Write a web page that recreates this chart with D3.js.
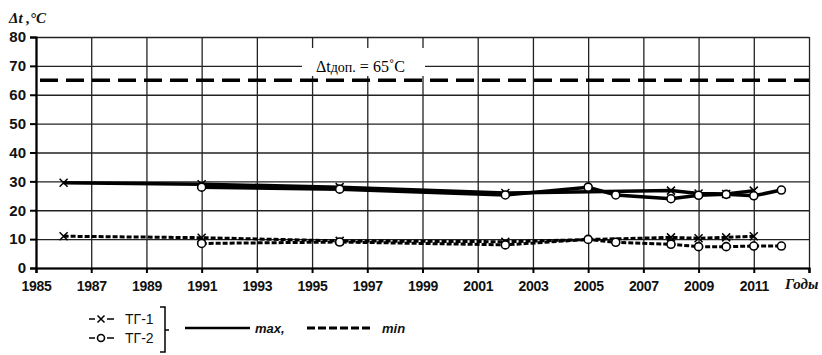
<!DOCTYPE html>
<html>
<head>
<meta charset="utf-8">
<script src="https://cdn.jsdelivr.net/npm/d3@7"></script>
<style>
  body { margin: 0; background: #fff; }
  svg { display: block; }
</style>
</head>
<body>
<svg id="chart"></svg>
<script>
// data
const tempTicks = [0, 10, 20, 30, 40, 50, 60, 70, 80];

const years1 = [1986, 1991, 1996, 2002, 2008, 2009, 2010, 2011];
const tg1Max = [29.5, 29, 28, 26, 26.8, 25.8, 25.6, 26.8];
const tg1Min = [11, 10.5, 9.4, 9.1, 10.6, 10.3, 10.6, 11];

const years2 = [1991, 1996, 2002, 2005, 2006, 2008, 2009, 2010, 2011, 2012];
const tg2Max = [28, 27.3, 25.3, 28, 25.3, 24, 25.2, 25.5, 25, 27];
const tg2Min = [8.5, 9, 8, 9.9, 8.9, 8.2, 7.4, 7.4, 7.6, 7.6];

const limitValue = 65;
const seriesNames = ["ТГ-1", "ТГ-2"];
const kindNames = ["max,", "min"];

const W = 822, H = 355;
const margins = {left: 36, right: 13, top: 37, bottom: 87};

const svg = d3.select("#chart").attr("width", W).attr("height", H);
svg.append("rect").attr("width", W).attr("height", H).attr("fill", "#fff");

const x = d3.scaleLinear().domain([1985, 2013]).range([margins.left, W - margins.right]);
const y = d3.scaleLinear().domain([0, 80]).range([H - margins.bottom, margins.top]);

// grid
svg.append("g")
   .attr("transform", "translate(0," + y(0) + ")")
   .call(d3.axisBottom(x).tickValues(d3.range(1985, 2014, 2)).tickSize(-(y(0) - y(80))).tickFormat(""))
   .call(g => g.select(".domain").remove())
   .call(g => g.selectAll("line").attr("stroke", "#222").attr("stroke-width", 1.3));
svg.append("g")
   .attr("transform", "translate(" + x(1985) + ",0)")
   .call(d3.axisLeft(y).tickValues(tempTicks).tickSize(-(x(2013) - x(1985))).tickFormat(""))
   .call(g => g.select(".domain").remove())
   .call(g => g.selectAll("line").attr("stroke", "#222").attr("stroke-width", 1.3));

// allowed limit
svg.append("line")
   .attr("x1", x(1985) + 4).attr("x2", x(2013))
   .attr("y1", y(limitValue)).attr("y2", y(limitValue))
   .attr("stroke", "#000").attr("stroke-width", 3.5)
   .attr("stroke-dasharray", "18,8");

svg.append("rect")
   .attr("x", 302).attr("y", 48).attr("width", 123).attr("height", 28)
   .attr("fill", "#fff");
const lim = svg.append("text")
   .attr("x", 316).attr("y", 72)
   .attr("font-family", "Liberation Serif, serif")
   .attr("font-size", 16).attr("fill", "#000");
lim.append("tspan").text("Δt");
lim.append("tspan").attr("font-size", 14).text("доп.");
lim.append("tspan").text(" = 65˚C");

// axes
const xAxis = svg.append("g")
   .attr("transform", "translate(0," + y(0) + ")")
   .call(d3.axisBottom(x).tickValues(d3.range(1985, 2014, 2)).tickSize(5).tickFormat(d => d < 2013 ? d : ""));
const yAxis = svg.append("g")
   .attr("transform", "translate(" + x(1985) + ",0)")
   .call(d3.axisLeft(y).tickValues(tempTicks).tickSize(6).tickPadding(4));
[xAxis, yAxis].forEach(a => {
  a.select(".domain").attr("stroke", "#000").attr("stroke-width", 2.2);
  a.selectAll(".tick line").attr("stroke", "#000").attr("stroke-width", 2);
  a.selectAll("text").attr("fill", "#111")
   .attr("font-family", "Liberation Sans, Arial, sans-serif")
   .attr("font-weight", "bold");
});
xAxis.selectAll("text").attr("font-size", 14).attr("dy", "1.05em").attr("letter-spacing", -0.3);
yAxis.selectAll("text").attr("font-size", 15);

svg.append("text")
   .attr("x", 785).attr("y", 289)
   .attr("font-family", "Liberation Serif, serif").attr("font-style", "italic").attr("font-weight", "bold")
   .attr("font-size", 15).attr("fill", "#111").text("Годы");

svg.append("text")
   .attr("x", 9).attr("y", 23)
   .attr("font-family", "Liberation Serif, serif").attr("font-style", "italic").attr("font-weight", "bold")
   .attr("font-size", 15).attr("fill", "#111").text("Δt ,°C");

// series
const line = d3.line().x(d => x(d[0])).y(d => y(d[1]));
const pairs = (ys, vs) => ys.map((yr, i) => [yr, vs[i]]);

const series = [
  {pts: pairs(years1, tg1Max), dash: null, marker: "x"},
  {pts: pairs(years2, tg2Max), dash: null, marker: "o"},
  {pts: pairs(years1, tg1Min), dash: "5,2", marker: "x"},
  {pts: pairs(years2, tg2Min), dash: "5,2", marker: "o"}
];

series.forEach(s => {
  svg.append("path")
     .attr("d", line(s.pts))
     .attr("fill", "none").attr("stroke", "#000")
     .attr("stroke-width", s.dash ? 3 : 3.5)
     .attr("stroke-dasharray", s.dash);
});

function drawMarker(g, type, cx, cy, s) {
  s = s || 4;
  if (type === "x") {
    g.append("path")
     .attr("d", "M" + (cx - s) + "," + (cy - s) + "L" + (cx + s) + "," + (cy + s) +
                "M" + (cx - s) + "," + (cy + s) + "L" + (cx + s) + "," + (cy - s))
     .attr("stroke", "#000").attr("stroke-width", 1.5).attr("fill", "none");
  } else {
    g.append("circle").attr("cx", cx).attr("cy", cy).attr("r", s)
     .attr("fill", "#fff").attr("stroke", "#000").attr("stroke-width", 1.6);
  }
}

const mk = svg.append("g");
series.forEach(s => s.pts.forEach(p => drawMarker(mk, s.marker, x(p[0]), y(p[1]))));

// legend
const leg = svg.append("g");
const legY = [319, 338];
seriesNames.forEach((name, i) => {
  leg.append("line").attr("x1", 89).attr("x2", 95).attr("y1", legY[i]).attr("y2", legY[i])
     .attr("stroke", "#000").attr("stroke-width", 1.5);
  leg.append("line").attr("x1", 107).attr("x2", 114).attr("y1", legY[i]).attr("y2", legY[i])
     .attr("stroke", "#000").attr("stroke-width", 1.5);
  drawMarker(leg, i === 0 ? "x" : "o", 101, legY[i], 3.5);
  leg.append("text").attr("x", 125).attr("y", legY[i] + 5)
     .attr("font-family", "Liberation Sans, Arial, sans-serif").attr("font-size", 14)
     .attr("fill", "#111").text(name);
});
leg.append("path")
   .attr("d", "M160,307H165V352H160M165,330H169")
   .attr("fill", "none").attr("stroke", "#000").attr("stroke-width", 1.5);

leg.append("line").attr("x1", 185).attr("x2", 250).attr("y1", 328).attr("y2", 328)
   .attr("stroke", "#000").attr("stroke-width", 2.5);
leg.append("line").attr("x1", 307).attr("x2", 370).attr("y1", 328).attr("y2", 328)
   .attr("stroke", "#000").attr("stroke-width", 3).attr("stroke-dasharray", "8,3");
[[255, kindNames[0]], [382, kindNames[1]]].forEach(d => {
  leg.append("text").attr("x", d[0]).attr("y", 333)
     .attr("font-family", "Liberation Sans, Arial, sans-serif").attr("font-style", "italic").attr("font-weight", "bold")
     .attr("font-size", 13).attr("fill", "#111").text(d[1]);
});
</script>
</body>
</html>
